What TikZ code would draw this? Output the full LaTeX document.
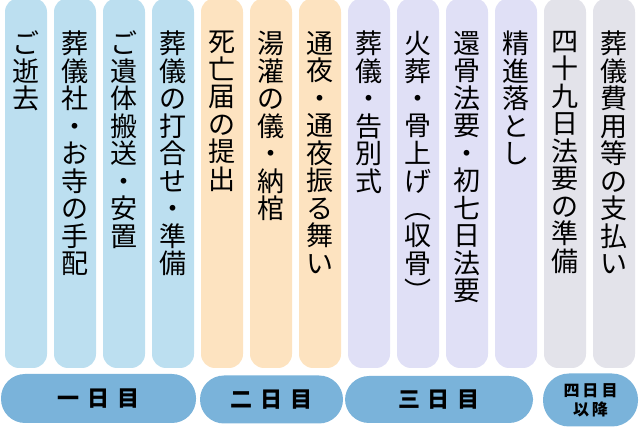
\documentclass[tikz,border=0pt]{standalone}
\usepackage{fontspec}
\newfontfamily\jp{Noto Sans CJK JP}
\definecolor{cblue}{HTML}{BCDFF0}
\definecolor{corange}{HTML}{FDE3C0}
\definecolor{clav}{HTML}{E0E0F6}
\definecolor{cgray}{HTML}{E3E3EA}
\definecolor{cpill}{HTML}{7AB3DA}
\begin{document}
\begin{tikzpicture}[x=1pt,y=-1pt,
  colbox/.style={rounded corners=14pt},
  vtext/.style={anchor=north,inner sep=0pt,align=center,
    font=\jp\fontsize{27}{27.5}\selectfont},
  pill/.style={fill=cpill,rounded corners=24pt,inner sep=0pt,
    font=\jp\bfseries\fontsize{22}{22}\selectfont},
]
\useasboundingbox (0,0) rectangle (640,427);
% columns
\foreach \i/\c in {0/cblue,1/cblue,2/cblue,3/cblue,4/corange,5/corange,6/corange,7/clav,8/clav,9/clav,10/clav,11/cgray,12/cgray}{
  \fill[\c,colbox] ({5+49*\i},-2) rectangle ({47+49*\i},368);
}
\node[vtext] (t1) at (26,31) {ご\\逝\\去};
\node[vtext] (t2) at (75,31) {葬\\儀\\社\\・\\お\\寺\\の\\手\\配};
\node[vtext] (t3) at (124,31) {ご\\遺\\体\\搬\\送\\・\\安\\置};
\node[vtext] (t4) at (173,31) {葬\\儀\\の\\打\\合\\せ\\・\\準\\備};
\node[vtext] (t5) at (222,31) {死\\亡\\届\\の\\提\\出};
\node[vtext] (t6) at (271,31) {湯\\灌\\の\\儀\\・\\納\\棺};
\node[vtext] (t7) at (320,31) {通\\夜\\・\\通\\夜\\振\\る\\舞\\い};
\node[vtext] (t8) at (369,31) {葬\\儀\\・\\告\\別\\式};
\node[vtext] (t9) at (418,31) {火\\葬\\・\\骨\\上\\げ\\︵\\収\\骨\\︶};
\node[vtext] (t10) at (467,31) {還\\骨\\法\\要\\・\\初\\七\\日\\法\\要};
\node[vtext] (t11) at (516,31) {精\\進\\落\\と\\し};
\node[vtext] (t12) at (565,31) {四\\十\\九\\日\\法\\要\\の\\準\\備};
\node[vtext] (t13) at (614,31) {葬\\儀\\費\\用\\等\\の\\支\\払\\い};
% day pills
\node[pill,minimum width=195pt,minimum height=49pt] (d1) at (98.5,398.5) {一\hspace{8pt}日\hspace{8pt}目};
\node[pill,minimum width=143pt,minimum height=48pt] (d2) at (271.5,399.5) {二\hspace{8pt}日\hspace{8pt}目};
\node[pill,minimum width=188pt,minimum height=47pt] (d3) at (439,399.5) {三\hspace{8pt}日\hspace{8pt}目};
\node[pill,minimum width=95pt,minimum height=53pt,rounded corners=26pt,align=center,
  font=\jp\bfseries\fontsize{16}{19}\selectfont] (d4) at (590.5,400) {四\hspace{3pt}日\hspace{3pt}目\\以\hspace{3pt}降};
\end{tikzpicture}
\end{document}
